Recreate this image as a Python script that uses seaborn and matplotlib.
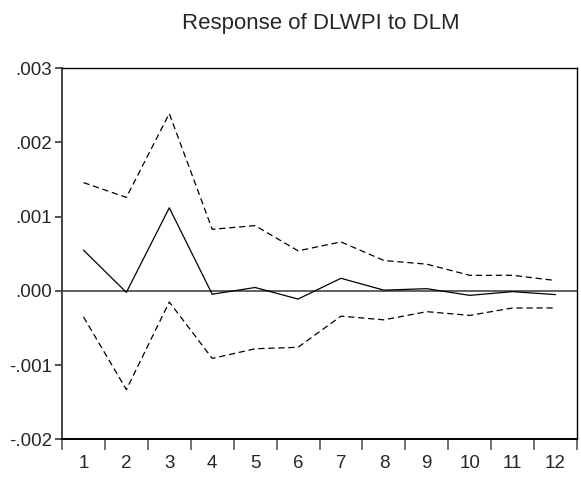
import matplotlib
matplotlib.use("Agg")
import matplotlib.pyplot as plt
import seaborn as sns
import pandas as pd
import numpy as np
from matplotlib.ticker import FixedLocator

periods = list(range(1, 13))
response = [0.00055, -0.00002, 0.00112, -0.000045, 0.000046, -0.00011,
            0.00017, 0.00001, 0.00003, -0.00006, -0.00001, -0.00005]
upper = [0.00146, 0.00126, 0.00239, 0.00083, 0.00088, 0.00054,
         0.00066, 0.00041, 0.00036, 0.00021, 0.00021, 0.00014]
lower = [-0.00035, -0.00133, -0.00015, -0.00091, -0.00078, -0.00076,
         -0.00034, -0.00039, -0.00028, -0.00033, -0.00023, -0.00023]
ytick_vals = [-0.002, -0.001, 0.0, 0.001, 0.002, 0.003]
ytick_labels = ["-.002", "-.001", ".000", ".001", ".002", ".003"]
title = "Response of DLWPI to DLM"

sns.set_style("white")
plt.rcParams["font.family"] = ["Liberation Sans", "DejaVu Sans"]

df = pd.DataFrame({"period": periods, "response": response,
                   "upper": upper, "lower": lower})

fig = plt.figure(figsize=(5.81, 4.79), dpi=100)
ax = fig.add_axes([62/581, 1-439.3/479, (577-62)/581, (439.3-68.3)/479])

ax.axhline(0, color="#555555", lw=1.3, zorder=1)
sns.lineplot(data=df, x="period", y="upper", ax=ax, color="black", lw=0.9,
             linestyle=(0, (5, 3)), zorder=2)
sns.lineplot(data=df, x="period", y="lower", ax=ax, color="black", lw=0.9,
             linestyle=(0, (5, 3)), zorder=2)
sns.lineplot(data=df, x="period", y="response", ax=ax, color="black", lw=0.9,
             zorder=3)

ax.set_xlim(0.5, 12.5)
ax.set_ylim(-0.002, 0.003)
ax.set_yticks(ytick_vals)
ax.set_yticklabels(ytick_labels)
ax.set_xticks(periods)
ax.set_xticklabels([str(p) for p in periods])
ax.xaxis.set_minor_locator(FixedLocator(np.arange(0.5, 13, 1.0)))
ax.tick_params(axis="x", which="major", length=0, labelsize=13.5, pad=11)
ax.tick_params(axis="x", which="minor", length=8, width=1.3, color="#666666",
               direction="out", bottom=True)
ax.tick_params(axis="y", which="major", length=5, width=1.3, color="#444444",
               direction="out", left=True, labelsize=13.5, pad=2)
ax.set_xlabel("")
ax.set_ylabel("")
for side in ["top", "right", "left", "bottom"]:
    ax.spines[side].set_visible(True)
    ax.spines[side].set_color("black")
    ax.spines[side].set_linewidth(1.0)
ax.spines["left"].set_color("#444444")
ax.spines["left"].set_linewidth(1.4)
ax.spines["bottom"].set_linewidth(1.4)

fig.text(321/581, 1-29.3/479, title, ha="center", va="baseline", fontsize=16)

fig.savefig("out.png", dpi=100)
